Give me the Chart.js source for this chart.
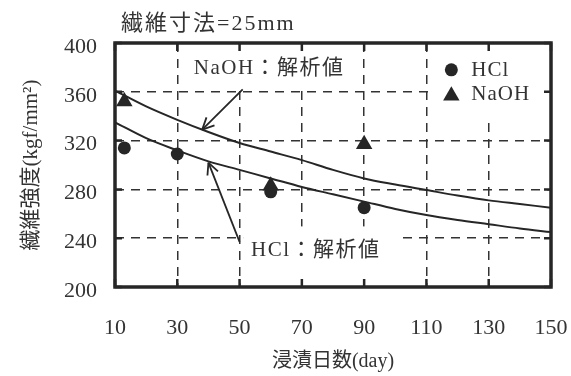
<!DOCTYPE html>
<html><head><meta charset="utf-8">
<script src="https://cdn.jsdelivr.net/npm/chart.js@4.4.0/dist/chart.umd.min.js"></script>
<style>html,body{margin:0;padding:0;background:#fff}canvas{display:block}</style>
</head><body>
<canvas id="c" width="571" height="376"></canvas>
<script>
// ---- data ----
const xTickValues = [10, 30, 50, 70, 90, 110, 130, 150];
const yTickValues = [200, 240, 280, 320, 360, 400];
const curveDays = [10, 20, 30, 40, 50, 60, 70, 80, 90, 100, 110, 120, 130, 140, 150];
const naohCurve = [361, 348, 337, 327, 318, 311, 304, 296, 289, 284, 279.5, 275, 271, 268, 265];
const hclCurve  = [335, 322, 312, 303, 296, 289, 282, 276, 270, 264, 259, 255, 251.5, 248, 245];
const hclDays = [13, 30, 60, 90];
const hclValues = [314, 309, 278, 265];
const naohDays = [13, 60, 90];
const naohValues = [352, 283, 317];
const naohLeaderDays = [51, 38];
const naohLeaderValues = [362, 329];
const hclLeaderDays = [50, 40];
const hclLeaderValues = [237, 302];
const titleText = '繊維寸法=25mm';
const xTitle = '浸漬日数(day)';
const yTitle = '繊維強度(kgf/mm²)';
const naohLabel = 'NaOH：解析値';
const hclLabel = 'HCl：解析値';

// ---- styles ----
const SERIF = '"Liberation Serif", "Times New Roman", "Noto Sans CJK JP", serif';
const TXT = '#333';
const INK = '#262626';

const pts = (xs, ys) => xs.map((v, i) => ({x: v, y: ys[i]}));

const annotations = [
  {text: naohLabel, day: 59.5, value: 379.5, mask: {l: 6, r: 6, t: 'top', b: 17}},
  {text: hclLabel, day: 74.5, value: 230, mask: {l: 8, r: 22, t: 24, b: 'bottom'}}
];
const legendPos = {day: 118, value: 378, rowGap: 24};

const deco = {
  id: 'deco',
  beforeDatasetsDraw(chart) {
    const {ctx, chartArea: a, scales: {x, y}} = chart;
    ctx.save();
    ctx.fillStyle = '#fff';
    ctx.font = '21px ' + SERIF;
    ctx.letterSpacing = '1.5px';
    for (const an of annotations) {
      const cx = x.getPixelForValue(an.day), cy = y.getPixelForValue(an.value);
      const w = ctx.measureText(an.text).width;
      const left = cx - w / 2 - an.mask.l, right = cx + w / 2 + an.mask.r;
      const top = an.mask.t === 'top' ? a.top + 2 : cy - an.mask.t;
      const bottom = an.mask.b === 'bottom' ? a.bottom - 2 : cy + an.mask.b;
      ctx.fillRect(left, top, right - left, bottom - top);
    }
    // legend mask
    const lx = x.getPixelForValue(legendPos.day);
    const ly = y.getPixelForValue(legendPos.value);
    ctx.fillRect(lx - 22, a.top + 2, a.right - 2 - (lx - 22), ly + legendPos.rowGap + 23 - a.top - 2);
    ctx.restore();
  },
  afterDatasetsDraw(chart) {
    const {ctx, chartArea: a, scales: {x, y}} = chart;
    ctx.save();
    // leader arrowheads
    chart.data.datasets.forEach((ds, i) => {
      if (!ds.arrow) return;
      const d = chart.getDatasetMeta(i).data;
      const p0 = d[0], p1 = d[d.length - 1];
      const ang = Math.atan2(p0.y - p1.y, p0.x - p1.x);
      ctx.strokeStyle = INK; ctx.lineWidth = 1.8;
      ctx.beginPath();
      for (const s of [-0.45, 0.45]) {
        ctx.moveTo(p1.x, p1.y);
        ctx.lineTo(p1.x + 13 * Math.cos(ang + s), p1.y + 13 * Math.sin(ang + s));
      }
      ctx.stroke();
    });
    // annotation texts
    ctx.fillStyle = TXT;
    ctx.font = '21px ' + SERIF;
    ctx.letterSpacing = '1.5px';
    ctx.textAlign = 'center';
    ctx.textBaseline = 'middle';
    for (const an of annotations) {
      ctx.fillText(an.text, x.getPixelForValue(an.day), y.getPixelForValue(an.value));
    }
    // legend
    const lx = x.getPixelForValue(legendPos.day);
    let ly = y.getPixelForValue(legendPos.value);
    ctx.font = '21px ' + SERIF;
    ctx.letterSpacing = '1px';
    ctx.textAlign = 'left';
    chart.data.datasets.forEach(ds => {
      if (!ds.inLegend) return;
      ctx.fillStyle = INK;
      ctx.beginPath();
      if (ds.pointStyle === 'triangle') {
        const r = ds.pointRadius, cy = ly + 2;
        ctx.moveTo(lx, cy - r);
        ctx.lineTo(lx + r * Math.sin(2 * Math.PI / 3), cy + r / 2);
        ctx.lineTo(lx - r * Math.sin(2 * Math.PI / 3), cy + r / 2);
        ctx.closePath();
      } else {
        ctx.arc(lx, ly, ds.pointRadius, 0, Math.PI * 2);
      }
      ctx.fill();
      ctx.fillStyle = TXT;
      ctx.fillText(ds.label, lx + 20, ly + 1);
      ly += legendPos.rowGap;
    });
    // frame
    ctx.strokeStyle = INK;
    ctx.lineWidth = 3.5;
    ctx.letterSpacing = '0px';
    ctx.strokeRect(a.left, a.top, a.right - a.left, a.bottom - a.top);
    // inside tick marks
    ctx.lineWidth = 2.5;
    ctx.beginPath();
    for (const v of xTickValues) {
      const px = x.getPixelForValue(v);
      ctx.moveTo(px, a.bottom); ctx.lineTo(px, a.bottom - 8);
      ctx.moveTo(px, a.top); ctx.lineTo(px, a.top + 8);
    }
    for (const v of yTickValues) {
      const py = y.getPixelForValue(v);
      ctx.moveTo(a.left, py); ctx.lineTo(a.left + 7, py);
      ctx.moveTo(a.right, py); ctx.lineTo(a.right - 7, py);
    }
    ctx.stroke();
    // title
    ctx.fillStyle = TXT;
    ctx.font = '22px ' + SERIF;
    ctx.letterSpacing = '2px';
    ctx.textAlign = 'left';
    ctx.textBaseline = 'middle';
    ctx.fillText(titleText, a.left + 6, a.top - 19);
    ctx.restore();
  }
};

new Chart(document.getElementById('c'), {
  type: 'scatter',
  data: {
    datasets: [
      {label: naohLabel, data: pts(curveDays, naohCurve), showLine: true, borderColor: INK, borderWidth: 2,
       pointRadius: 0, cubicInterpolationMode: 'monotone', fill: false},
      {label: hclLabel, data: pts(curveDays, hclCurve), showLine: true, borderColor: INK, borderWidth: 2,
       pointRadius: 0, cubicInterpolationMode: 'monotone', fill: false},
      {label: 'leader NaOH', data: pts(naohLeaderDays, naohLeaderValues), showLine: true, borderColor: INK,
       borderWidth: 1.8, pointRadius: 0, arrow: true},
      {label: 'leader HCl', data: pts(hclLeaderDays, hclLeaderValues), showLine: true, borderColor: INK,
       borderWidth: 1.8, pointRadius: 0, arrow: true},
      {label: 'HCl', data: pts(hclDays, hclValues), pointStyle: 'circle', pointRadius: 6.5,
       backgroundColor: INK, borderColor: INK, borderWidth: 0, inLegend: true},
      {label: 'NaOH', data: pts(naohDays, naohValues), pointStyle: 'triangle', pointRadius: 9.5,
       backgroundColor: INK, borderColor: INK, borderWidth: 0, inLegend: true}
    ]
  },
  options: {
    responsive: false,
    animation: false,
    devicePixelRatio: 1,
    layout: {padding: {left: 0, right: 20, top: 43, bottom: 0}},
    plugins: {legend: {display: false}, tooltip: {enabled: false}, title: {display: false}},
    scales: {
      x: {
        type: 'linear', min: 10, max: 150,
        afterFit: s => { s.height = 89; s.paddingLeft = 0; s.paddingRight = 0; },
        afterBuildTicks: s => { s.ticks = xTickValues.map(v => ({value: v})); },
        ticks: {font: {family: SERIF, size: 22}, color: TXT, padding: 28, maxRotation: 0},
        grid: {color: '#333', lineWidth: 1.5, drawTicks: false},
        border: {display: false, dash: [9, 7]},
        title: {display: true, text: xTitle, font: {family: SERIF, size: 20}, color: TXT, padding: {top: 0, bottom: 2}}
      },
      y: {
        type: 'linear', min: 200, max: 400,
        afterFit: s => { s.width = 115; },
        afterBuildTicks: s => { s.ticks = yTickValues.map(v => ({value: v})); },
        ticks: {font: {family: SERIF, size: 22}, color: TXT, padding: 18, labelOffset: 4},
        grid: {color: '#333', lineWidth: 1.5, drawTicks: false},
        border: {display: false, dash: [9, 7]},
        title: {display: true, text: yTitle, font: {family: SERIF, size: 21}, color: TXT, padding: {top: 19, bottom: 0}}
      }
    }
  },
  plugins: [deco]
});
</script>
</body></html>
